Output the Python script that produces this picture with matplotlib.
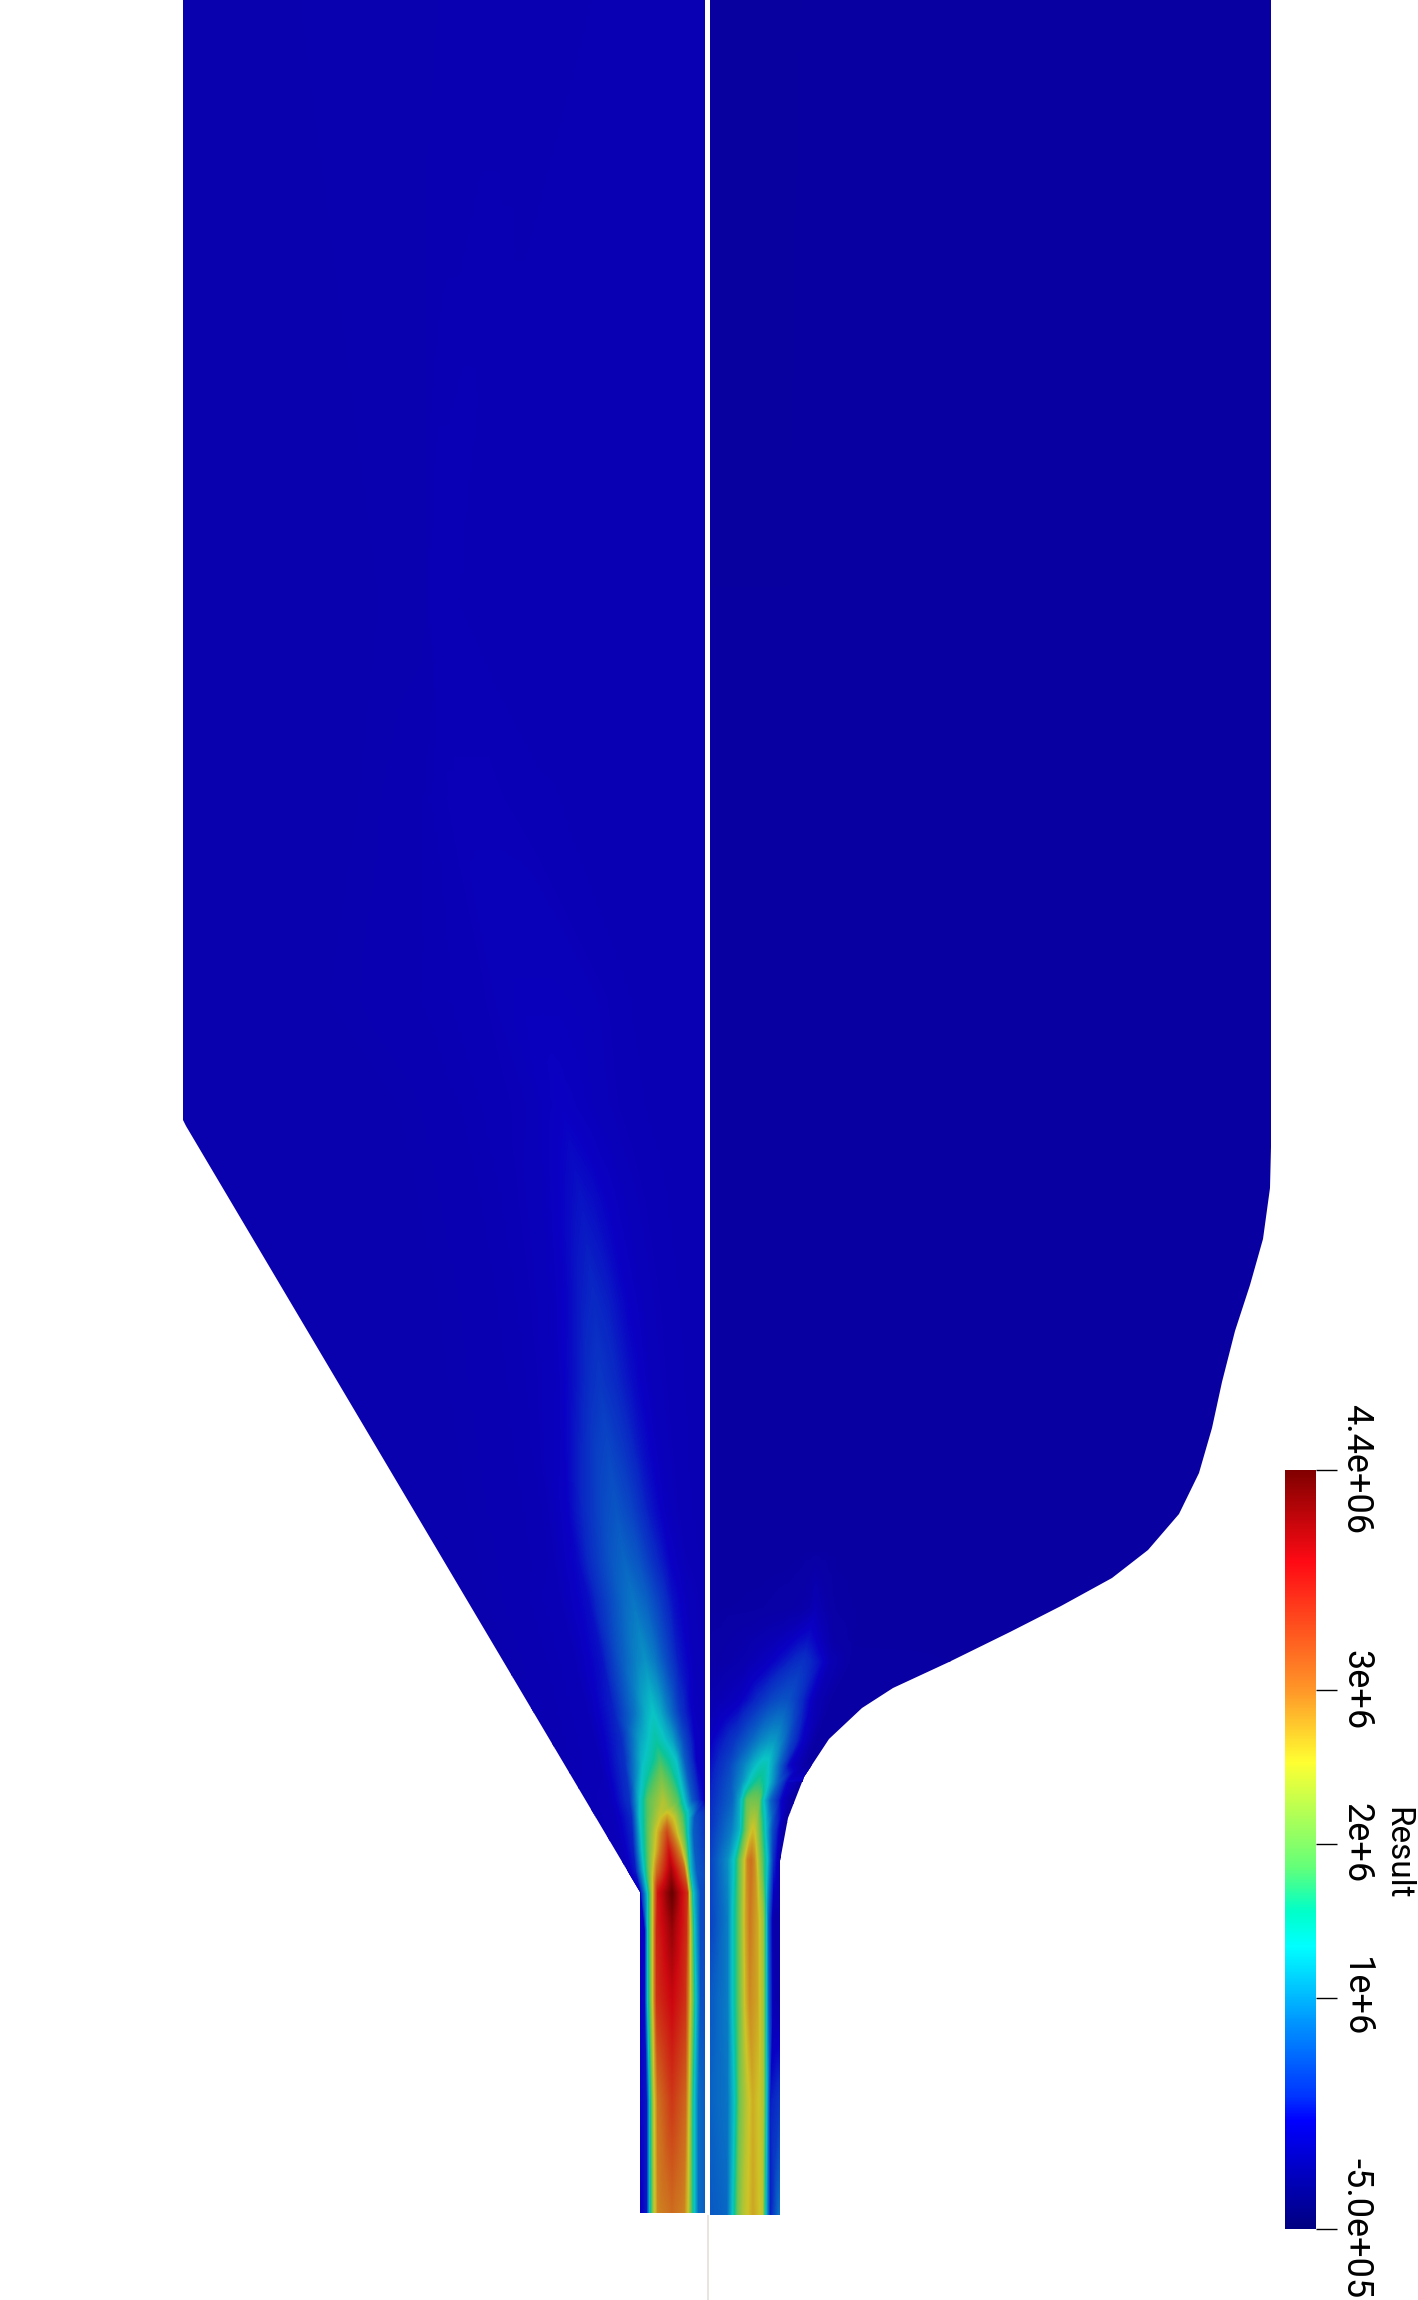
import numpy as np
import matplotlib
matplotlib.use("Agg")
import matplotlib.pyplot as plt
import matplotlib.tri as mtri
from matplotlib.colors import LinearSegmentedColormap
from matplotlib.patches import Polygon

# ---------- scale (values in units of 1e6) ----------
VMIN, VMAX = -0.5, 4.43
tick_values = [-0.5, 1.0, 2.0, 3.0, 4.43]
tick_labels = ["-5.0e+05", "1e+6", "2e+6", "3e+6", "4.4e+06"]
bar_title = "Result"
lut_values = [-0.5, 0.2, 0.35, 0.84, 1.33, 1.56, 1.85, 2.53, 3.0, 3.83, 4.43]
lut_colors = [(0, 0, 130), (0, 0, 255), (0, 50, 255), (0, 150, 255), (0, 255, 255),
              (0, 255, 200), (100, 255, 120), (255, 255, 50), (255, 150, 40),
              (255, 10, 20), (128, 0, 0)]
SHADE = 0.77

# ---------- outlines, in image pixels ----------
left_outline = [(183, -5), (183, 1120), (186, 1126), (640, 1892), (640, 2213), (705, 2213), (705, -5)]
right_outline = [(710, -5), (1271, -5), (1271, 1147), (1270, 1188), (1263, 1239), (1250, 1285),
                 (1235, 1331), (1222, 1382), (1212, 1428), (1199, 1473), (1179, 1514),
                 (1148, 1550), (1112, 1578), (1061, 1606), (1010, 1632), (949, 1662),
                 (893, 1688), (862, 1708), (829, 1739), (804, 1777), (788, 1818), (780, 1861),
                 (780, 2215), (710, 2215)]

# ---------- left field: one row per image height, nodes follow the plume ----------
left_y = [-10, 600, 800, 1000, 1105, 1199, 1300, 1382, 1450, 1510, 1560, 1600, 1660, 1713, 1740, 1760,
          1800, 1817, 1833, 1850, 1870, 1893, 1930, 2000, 2100, 2230]
left_x = [
    [170, 300, 380, 420, 440, 460, 480, 500, 520, 560, 600, 660, 720],
    [170, 380, 420, 428, 430, 433, 436, 440, 445, 455, 470, 600, 720],
    [170, 360, 425, 440, 450, 460, 470, 485, 500, 520, 550, 620, 720],
    [170, 330, 455, 490, 505, 520, 540, 560, 585, 605, 625, 660, 720],
    [170, 400, 485, 530, 545, 555, 562, 572, 590, 615, 640, 670, 720],
    [170, 420, 505, 545, 560, 572, 581, 593, 608, 628, 650, 680, 720],
    [170, 440, 520, 552, 568, 582, 594, 608, 625, 645, 665, 690, 720],
    [170, 450, 530, 558, 575, 590, 600, 614, 632, 650, 670, 695, 720],
    [170, 460, 535, 562, 582, 596, 608, 622, 640, 658, 675, 697, 720],
    [170, 470, 545, 568, 588, 604, 616, 630, 648, 665, 680, 700, 720],
    [170, 480, 552, 578, 597, 612, 624, 638, 654, 670, 685, 705, 720],
    [170, 490, 560, 590, 610, 624, 633, 646, 660, 672, 687, 705, 720],
    [170, 510, 575, 603, 622, 636, 645, 654, 665, 677, 693, 705, 720],
    [170, 520, 588, 615, 635, 647, 653, 660, 668, 680, 693, 705, 720],
    [170, 525, 595, 622, 640, 650, 656, 663, 672, 683, 695, 705, 720],
    [170, 530, 600, 625, 642, 652, 660, 668, 676, 684, 696, 705, 720],
    [170, 540, 610, 630, 640, 648, 663, 678, 684, 692, 700, 705, 720],
    [170, 550, 615, 632, 640, 648, 660, 667, 674, 682, 688, 694, 720],
    [170, 555, 618, 633, 641, 649, 659, 667, 675, 683, 688, 693, 720],
    [170, 560, 622, 634, 642, 650, 657.5, 669, 680, 685, 689, 694, 720],
    [170, 565, 627, 636, 644, 651, 657, 671, 684, 687, 690, 696, 720],
    [170, 575, 635, 641, 648, 653, 658, 672, 687, 689, 693, 700, 720],
    [170, 600, 641, 645, 648, 653, 657, 672, 686, 690, 694, 700, 720],
    [170, 620, 641, 645, 648, 653, 657, 672, 685, 690, 695, 700, 720],
    [170, 620, 640, 647, 650, 654, 658, 672, 685, 689, 693, 698, 720],
    [170, 620, 640, 647, 650, 654, 658, 672, 684, 688, 693, 698, 720],
]
left_v = [
    [.04, .05, .05, .05, .06, .06, .06, .07, .07, .07, .08, .08, .08],
    [.04, .05, .05, .06, .09, .1, .1, .1, .1, .09, .08, .08, .08],
    [.04, .05, .08, .1, .11, .11, .11, .11, .11, .1, .09, .08, .08],
    [.04, .05, .09, .11, .13, .14, .14, .14, .13, .11, .09, .08, .08],
    [.04, .05, .09, .12, .15, .17, .19, .17, .14, .11, .09, .08, .08],
    [.04, .05, .09, .14, .2, .25, .28, .25, .19, .13, .1, .08, .08],
    [.04, .05, .09, .14, .22, .32, .37, .32, .21, .13, .1, .08, .08],
    [.04, .05, .09, .15, .27, .4, .46, .38, .25, .14, .1, .08, .08],
    [.04, .05, .09, .17, .35, .5, .56, .46, .28, .15, .1, .08, .08],
    [.04, .05, .09, .2, .41, .58, .65, .54, .31, .16, .1, .08, .08],
    [.04, .05, .09, .23, .47, .66, .75, .64, .39, .2, .11, .08, .08],
    [.04, .05, .1, .26, .56, .77, .85, .72, .48, .27, .14, .09, .09],
    [.04, .05, .1, .28, .68, .92, 1.02, .88, .6, .32, .14, .1, .1],
    [.04, .05, .1, .34, .84, 1.22, 1.33, 1.17, .88, .44, .17, .12, .12],
    [.04, .05, .1, .38, 1.12, 1.36, 1.5, 1.36, 1.12, .58, .19, .14, .14],
    [.04, .05, .1, .41, 1.25, 1.5, 1.75, 1.55, 1.3, .7, .2, .15, .15],
    [.04, .05, .12, .42, 1.3, 1.85, 2.35, 1.8, 1.3, .65, .3, .16, .16],
    [.04, .05, .12, .37, 1.3, 1.85, 2.45, 2.7, 2.45, 1.85, 1.3, .65, .12],
    [.04, .05, .12, .35, 1.3, 1.95, 2.7, 3.3, 2.7, 2.0, 1.3, .7, .12],
    [.04, .05, .12, .33, 1.3, 2.05, 2.7, 3.7, 2.8, 2.1, 1.3, .7, .2],
    [.04, .05, .12, .3, 1.3, 2.2, 3.0, 4.05, 3.1, 2.3, 1.3, .7, .3],
    [.04, .06, .12, .2, 1.35, 2.5, 3.7, 4.43, 3.5, 2.5, 1.3, .6, .45],
    [.1, .12, .18, .22, 1.35, 2.5, 3.6, 4.15, 3.55, 2.5, 1.35, .6, .45],
    [.15, .15, .2, .25, 1.35, 2.5, 3.5, 3.85, 3.5, 2.5, 1.4, .65, .45],
    [.15, .15, .2, .3, 1.3, 2.4, 3.0, 3.45, 3.1, 2.45, 1.45, .8, .45],
    [.15, .15, .15, .3, 1.3, 2.3, 2.85, 3.0, 2.85, 2.45, 1.45, .8, .5],
]

# ---------- right field ----------
right_y = [-10, 1550, 1608, 1640, 1662, 1700, 1740, 1765, 1782, 1800, 1830, 1860, 1920, 2000, 2100, 2230]
right_x = [
    [700, 730, 760, 790, 820, 850, 880, 910, 940, 970, 1000, 1100, 1300],
    [700, 720, 760, 790, 805, 812, 816, 820, 826, 835, 860, 1000, 1300],
    [700, 720, 760, 790, 805, 812, 816, 820, 826, 835, 860, 1000, 1300],
    [700, 720, 750, 775, 790, 800, 808, 814, 822, 832, 855, 1000, 1300],
    [700, 720, 745, 770, 785, 795, 803, 810, 820, 830, 850, 1000, 1300],
    [700, 715, 740, 760, 772, 782, 788, 795, 805, 815, 830, 1000, 1300],
    [700, 710, 735, 752, 762, 770, 775, 782, 790, 800, 815, 1000, 1300],
    [700, 710, 730, 745, 755, 762, 766, 772, 780, 788, 805, 1000, 1300],
    [700, 710, 731, 742, 751, 756, 759, 763, 769, 777, 786, 800, 1300],
    [700, 710, 733, 740, 747, 751, 755, 759, 763, 770, 780, 790, 1300],
    [700, 710, 732, 740, 747, 751, 753, 755, 758, 765, 772, 782, 1300],
    [700, 710, 728, 735, 743, 748, 751, 754, 762, 767, 773, 780, 1300],
    [700, 710, 728, 733, 740, 746, 750, 757, 763, 768, 773, 780, 1300],
    [700, 710, 728, 733, 740, 746, 750, 757, 763, 768, 773, 780, 1300],
    [700, 710, 728, 735, 740, 747, 753, 759, 763, 766, 770, 780, 1300],
    [700, 710, 727, 733, 738, 743, 753, 760, 762, 765, 770, 780, 1300],
]
right_v = [
    [-.06, -.06, -.06, -.06, -.05, -.05, -.04, -.04, -.04, -.04, -.04, -.04, -.04],
    [-.05, -.05, -.05, -.05, -.04, -.04, -.04, -.04, -.04, -.04, -.04, -.04, -.04],
    [-.04, -.04, -.03, -.01, .01, .05, .1, .05, .01, -.03, -.04, -.04, -.04],
    [-.03, -.02, .03, .09, .17, .24, .27, .22, .12, .0, -.04, -.04, -.04],
    [-.02, .0, .05, .18, .3, .38, .42, .36, .25, .08, -.03, -.04, -.04],
    [.04, .06, .17, .4, .55, .62, .62, .52, .3, .1, -.03, -.04, -.04],
    [.15, .17, .45, .75, .95, 1.05, 1.05, .88, .55, .25, -.03, -.04, -.04],
    [.2, .25, .55, .95, 1.25, 1.42, 1.42, 1.15, .7, .25, -.03, -.04, -.04],
    [.25, .3, .65, 1.0, 1.42, 1.6, 1.65, 1.55, 1.25, .75, .25, -.03, -.04],
    [.3, .35, .75, 1.15, 1.9, 2.0, 2.0, 1.95, 1.35, .75, .25, -.03, -.04],
    [.4, .42, .9, 1.25, 2.1, 2.45, 2.55, 2.45, 2.15, 1.35, .6, 0, -.04],
    [.45, .5, 1.0, 1.4, 2.3, 2.9, 3.0, 2.85, 1.9, 1.3, .4, 0, -.04],
    [.5, .5, .9, 1.35, 2.0, 2.7, 2.95, 2.7, 2.2, .75, 0, 0, -.04],
    [.66, .66, .9, 1.35, 2.0, 2.6, 2.85, 2.7, 2.25, .8, .05, 0, 0],
    [.72, .72, .85, 1.35, 2.0, 2.4, 2.65, 2.5, 2.3, 1.4, .3, .45, .45],
    [.66, .66, .75, 1.35, 2.0, 2.35, 2.7, 2.5, 2.45, 1.4, .3, .9, .9],
]

plt.rcParams["font.family"] = ["Roboto", "DejaVu Sans"]
W, H = 1418, 2300
fig = plt.figure(figsize=(W / 100, H / 100), dpi=100, facecolor="white")
ax = fig.add_axes([0, 0, 1, 1])
ax.set_xlim(0, W)
ax.set_ylim(H, 0)
ax.axis("off")

span = VMAX - VMIN
stops = [(v - VMIN) / span for v in lut_values]
bar_cmap = LinearSegmentedColormap.from_list(
    "bar", [(p, tuple(ch / 255 for ch in c)) for p, c in zip(stops, lut_colors)], N=512)
field_cmap = LinearSegmentedColormap.from_list(
    "field", [(p, (min(1, c[0] / 255 * SHADE + 0.035), c[1] / 255 * SHADE, c[2] / 255 * SHADE))
              for p, c in zip(stops, lut_colors)], N=512)
levels = np.linspace(VMIN, VMAX + 0.01, 513)


def draw_field(xs, ys, vs, outline):
    X = np.array(xs, float)
    V = np.array(vs, float)
    Y = np.repeat(np.array(ys, float)[:, None], X.shape[1], axis=1)
    nr, nc = X.shape
    idx = np.arange(nr * nc).reshape(nr, nc)
    a, b, c, d = idx[:-1, :-1].ravel(), idx[:-1, 1:].ravel(), idx[1:, 1:].ravel(), idx[1:, :-1].ravel()
    # every quad is cut into four triangles around its centre, so the mesh has no preferred diagonal
    e = nr * nc + np.arange(a.size)
    tris = np.vstack([np.c_[a, b, e], np.c_[b, c, e], np.c_[c, d, e], np.c_[d, a, e]])
    px = np.r_[X.ravel(), X.ravel()[[*a]] * 0.25 + X.ravel()[b] * 0.25 + X.ravel()[c] * 0.25 + X.ravel()[d] * 0.25]
    py = np.r_[Y.ravel(), Y.ravel()[a] * 0.25 + Y.ravel()[b] * 0.25 + Y.ravel()[c] * 0.25 + Y.ravel()[d] * 0.25]
    pv = np.r_[V.ravel(), V.ravel()[a] * 0.25 + V.ravel()[b] * 0.25 + V.ravel()[c] * 0.25 + V.ravel()[d] * 0.25]
    tri = mtri.Triangulation(px, py, tris)
    cs = ax.tricontourf(tri, pv, levels=levels, cmap=field_cmap,
                        vmin=VMIN, vmax=VMAX, antialiased=False)
    clip = Polygon(outline, closed=True, fc="none", ec="none", transform=ax.transData)
    ax.add_patch(clip)
    cs.set_clip_path(clip)


draw_field(left_x, left_y, left_v, left_outline)
draw_field(right_x, right_y, right_v, right_outline)

# thin pale line under the gap
ax.plot([708, 708], [2215, 2300], color="#e9e4df", lw=1.4, solid_capstyle="butt")

# colour bar
bx0, bx1, by0, by1 = 1285, 1315.5, 1469.5, 2228.5
cax = fig.add_axes([bx0 / W, 1 - by1 / H, (bx1 - bx0) / W, (by1 - by0) / H])
cvals = np.linspace(VMIN, VMAX, 512)[:, None]
cax.pcolormesh([0, 1], np.linspace(VMIN, VMAX, 513), cvals, cmap=bar_cmap, vmin=VMIN, vmax=VMAX, rasterized=True)
cax.set_ylim(VMIN, VMAX)
cax.set_xticks([])
for s in cax.spines.values():
    s.set_visible(False)
cax.yaxis.tick_right()
cax.set_yticks(tick_values)
cax.set_yticklabels(tick_labels, rotation=270, va="center", ha="left", fontsize=26, color="black")
cax.tick_params(axis="y", length=15, width=1, pad=1.5, color="black")
ax.text(1397, 1853, bar_title, rotation=270, ha="center", va="center", fontsize=24, color="black")

fig.savefig("out.png", dpi=100, facecolor="white")
